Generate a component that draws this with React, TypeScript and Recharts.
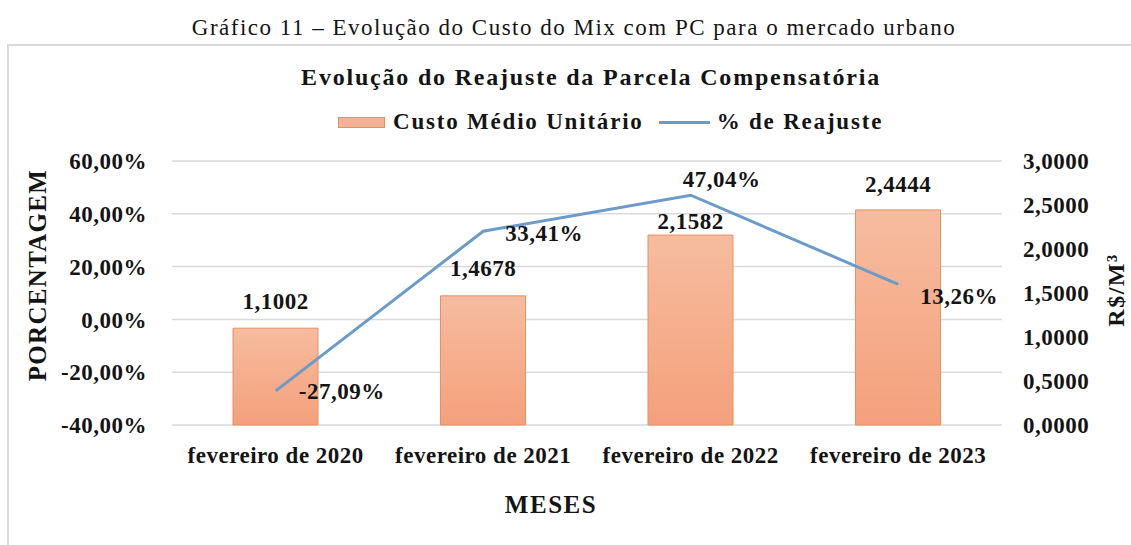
import React from 'react';
import {
  ComposedChart,
  Bar,
  Line,
  XAxis,
  YAxis,
  CartesianGrid,
  Legend,
  LabelList
} from 'recharts';

const months = ['fevereiro de 2020', 'fevereiro de 2021', 'fevereiro de 2022', 'fevereiro de 2023'];
const unitCost = [1.1002, 1.4678, 2.1582, 2.4444];
const readjustPct = [-27.09, 33.41, 47.04, 13.26];
const pctTicks = [-40, -20, 0, 20, 40, 60];
const costTicks = [0, 0.5, 1, 1.5, 2, 2.5, 3];

const data = months.map((month, i) => ({
  month,
  cost: unitCost[i],
  pct: readjustPct[i]
}));

// label placement tweaks, like the hand-moved labels in the original
const barLabelLift = [27, 27, 14, 25];
const lineLabelShift = [
  [23, 1],
  [22, 2],
  [-8, -16],
  [22, 12]
];

const FONT = '"Liberation Serif", "Times New Roman", serif';
const INK = '#141414';
const BAR_FILL = '#f5b194';
const BAR_EDGE = '#e8915c';
const LINE_BLUE = '#6b9bc8';
const GRID = '#d9d9d9';

const fmtPct = (v: number) => v.toFixed(2).replace('.', ',') + '%';
const fmtCost = (v: number) => v.toFixed(4).replace('.', ',');

const tickStyle = { fontFamily: FONT, fontSize: 23, fontWeight: 'bold', fill: INK, letterSpacing: 0.5 };

const BarValueLabel = (props: any) => {
  const { x, y, width, value, index } = props;
  return (
    <text
      x={x + width / 2}
      y={y - barLabelLift[index]}
      textAnchor="middle"
      dominantBaseline="central"
      style={tickStyle}
    >
      {fmtCost(value)}
    </text>
  );
};

const LineValueLabel = (props: any) => {
  const { x, y, value, index } = props;
  const [dx, dy] = lineLabelShift[index];
  return (
    <text x={x + dx} y={y + dy} textAnchor="start" dominantBaseline="central" style={tickStyle}>
      {fmtPct(value)}
    </text>
  );
};

const LegendRow = (props: any) => {
  // bar entry first, as in the original legend
  const payload = [...(props.payload || [])].sort(
    (a: any, b: any) => (a.type === 'line' ? 1 : 0) - (b.type === 'line' ? 1 : 0)
  );
  return (
    <div
      style={{
        display: 'flex',
        alignItems: 'center',
        paddingLeft: 338,
        height: 28,
        fontFamily: FONT,
        fontWeight: 'bold',
        fontSize: 23,
        letterSpacing: 1.8,
        color: INK
      }}
    >
      {payload.map((entry: any, i: number) => (
        <React.Fragment key={entry.value}>
          {entry.type === 'line' ? (
            <span style={{ width: 51, height: 3, background: LINE_BLUE, marginLeft: i ? 15 : 0, marginRight: 7 }} />
          ) : (
            <span
              style={{
                width: 47,
                height: 11,
                boxSizing: 'border-box',
                background: BAR_FILL,
                border: `1px solid ${BAR_EDGE}`,
                marginLeft: i ? 15 : 0,
                marginRight: 8
              }}
            />
          )}
          <span style={{ whiteSpace: 'nowrap' }}>{entry.value}</span>
        </React.Fragment>
      ))}
    </div>
  );
};

const centered = (cx: number, cy: number, extra = ''): React.CSSProperties => ({
  position: 'absolute',
  left: cx,
  top: cy,
  transform: `translate(-50%, -50%) ${extra}`,
  lineHeight: 1,
  whiteSpace: 'nowrap',
  fontFamily: FONT,
  color: INK
});

export default function App() {
  return (
    <div style={{ position: 'absolute', left: 0, top: 0, width: 1131, height: 545, background: '#fff', overflow: 'hidden' }}>
      <div
        style={{
          position: 'absolute',
          left: 7,
          top: 44,
          width: 1160,
          height: 540,
          border: `2px solid ${GRID}`
        }}
      />
      <div style={{ ...centered(574, 27), fontSize: 23, letterSpacing: 1.5 }}>
        Gráfico 11 – Evolução do Custo do Mix com PC para o mercado urbano
      </div>
      <div style={{ ...centered(591, 77), fontSize: 24, fontWeight: 'bold', letterSpacing: 1.8 }}>
        Evolução do Reajuste da Parcela Compensatória
      </div>

      <ComposedChart
        width={1131}
        height={545}
        data={data}
        margin={{ top: 161, right: 0, bottom: 20, left: 0 }}
      >
        <defs>
          <linearGradient id="barGrad" x1="0" y1="0" x2="0" y2="1">
            <stop offset="0%" stopColor="#f6bc9f" />
            <stop offset="100%" stopColor="#f4a07c" />
          </linearGradient>
        </defs>
        <CartesianGrid yAxisId="left" vertical={false} stroke={GRID} strokeWidth={1.5} />
        <XAxis
          dataKey="month"
          height={100}
          tickLine={false}
          axisLine={false}
          tickSize={0}
          tickMargin={22}
          tick={tickStyle}
          interval={0}
        />
        <YAxis
          yAxisId="left"
          width={172}
          domain={[-40, 60]}
          ticks={pctTicks}
          tickFormatter={fmtPct}
          tickLine={false}
          axisLine={false}
          tickSize={0}
          tickMargin={25}
          tick={tickStyle}
        />
        <YAxis
          yAxisId="right"
          orientation="right"
          width={129}
          domain={[0, 3]}
          ticks={costTicks}
          tickFormatter={fmtCost}
          tickLine={false}
          axisLine={false}
          tickSize={0}
          tickMargin={21}
          tick={{ ...tickStyle, textAnchor: 'start' }}
        />
        <Legend
          layout="horizontal"
          verticalAlign="middle"
          align="center"
          content={<LegendRow />}
          wrapperStyle={{ position: 'absolute', top: 108, left: 0, width: 1131 }}
        />
        <Bar
          yAxisId="right"
          dataKey="cost"
          name="Custo Médio Unitário"
          legendType="rect"
          barSize={85}
          fill="url(#barGrad)"
          stroke={BAR_EDGE}
          strokeWidth={1}
          isAnimationActive={false}
        >
          <LabelList dataKey="cost" content={<BarValueLabel />} />
        </Bar>
        <Line
          yAxisId="left"
          type="linear"
          dataKey="pct"
          name="% de Reajuste"
          legendType="line"
          stroke={LINE_BLUE}
          strokeWidth={3}
          dot={false}
          activeDot={false}
          isAnimationActive={false}
        >
          <LabelList dataKey="pct" content={<LineValueLabel />} />
        </Line>
      </ComposedChart>

      <div style={{ ...centered(37, 275, 'rotate(-90deg)'), fontSize: 25, fontWeight: 'bold', letterSpacing: 1.3 }}>
        PORCENTAGEM
      </div>
      <div style={{ ...centered(1116, 290, 'rotate(-90deg)'), fontSize: 24, fontWeight: 'bold', letterSpacing: 1.5 }}>
        R$/M³
      </div>
      <div style={{ ...centered(551, 504), fontSize: 25, fontWeight: 'bold', letterSpacing: 1.5 }}>
        MESES
      </div>
    </div>
  );
}
